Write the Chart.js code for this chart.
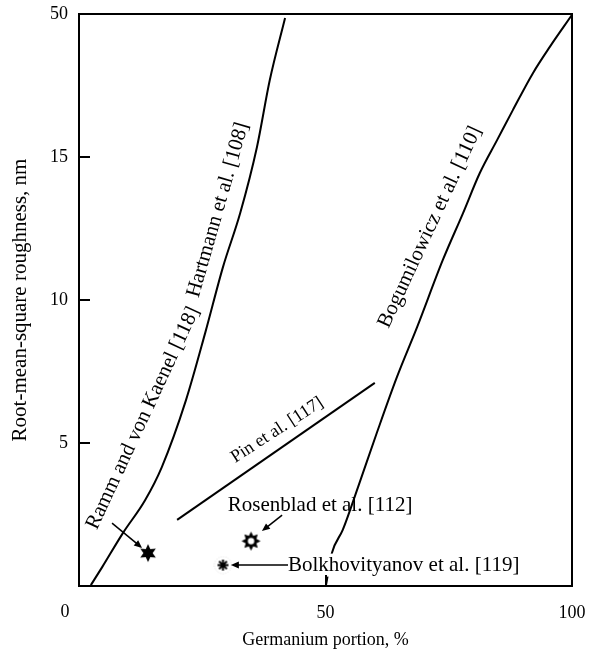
<!DOCTYPE html>
<html>
<head>
<meta charset="utf-8">
<script src="https://cdn.jsdelivr.net/npm/chart.js@4.4.0/dist/chart.umd.min.js"></script>
<style>
  html, body { margin: 0; padding: 0; background: #fff; }
  #wrap { width: 589px; height: 655px; position: relative; }
</style>
</head>
<body>
<div id="wrap"><canvas id="chart"></canvas></div>
<script>
// x = germanium portion (%), y = position on the roughness axis (top tick reads 50)
const hartmannX = [2.4, 4.7, 8.9, 13.4, 16.8, 21.7, 25.6, 29.2, 32.7, 36.1, 38.7, 41.8];
const hartmannY = [0.03, 0.66, 1.85, 3.0, 4.16, 6.5, 8.85, 11.15, 13.04, 15.35, 17.69, 19.86];

const bogumX = [50.1, 51.3, 53.5, 56.6, 60.4, 64.5, 68.6, 73.8, 77.9, 81.3, 84.8, 88.0, 92.1, 95.5, 100];
const bogumY = [0.03, 1.15, 1.96, 3.46, 5.35, 7.31, 9.06, 11.4, 13.04, 14.44, 15.59, 16.64, 17.94, 18.85, 19.97];

const pinX = [19.9, 60.0];
const pinY = [2.31, 7.10];

const rammPoint = [14.0, 1.15];
const rosenbladPoint = [34.9, 1.57];
const bolkhPoint = [29.2, 0.73];

const yTickValues = [0, 5, 10, 15, 20];
const yTickLabels = ['', '5', '10', '15', '50'];
const xTickValues = [0, 50, 100];
const xTickLabels = ['0', '50', '100'];

const FONT = "'Liberation Serif', 'DejaVu Serif', serif";
Chart.defaults.font.family = FONT;
Chart.defaults.color = '#000';

const toPoints = (xs, ys) => xs.map((v, i) => ({ x: v, y: ys[i] }));

// marker images
function starImage(n, rOut, rIn, hole) {
    const size = Math.ceil(rOut * 2 + 4);
    const c = document.createElement('canvas');
    c.width = size; c.height = size;
    const g = c.getContext('2d');
    const cx = size / 2, cy = size / 2;
    g.beginPath();
    for (let i = 0; i < n * 2; i++) {
        const r = i % 2 === 0 ? rOut : rIn;
        const a = -Math.PI / 2 + i * Math.PI / n;
        const px = cx + r * Math.cos(a), py = cy + r * Math.sin(a);
        if (i === 0) g.moveTo(px, py); else g.lineTo(px, py);
    }
    g.closePath();
    g.fillStyle = '#000';
    g.fill();
    if (hole) {
        g.beginPath();
        g.arc(cx, cy, hole, 0, Math.PI * 2);
        g.fillStyle = '#fff';
        g.fill();
    }
    return c;
}

function asteriskImage(r) {
    const size = Math.ceil(r * 2 + 8);
    const c = document.createElement('canvas');
    c.width = size; c.height = size;
    const g = c.getContext('2d');
    const cx = size / 2, cy = size / 2;
    g.strokeStyle = '#ddd';
    g.lineWidth = 1;
    g.setLineDash([1, 1.5]);
    g.beginPath();
    g.arc(cx, cy, r + 3, 0, Math.PI * 2);
    g.stroke();
    g.setLineDash([]);
    g.strokeStyle = '#000';
    g.lineWidth = 2;
    g.beginPath();
    for (let i = 0; i < 4; i++) {
        const a = i * Math.PI / 4 + Math.PI / 2;
        g.moveTo(cx + r * Math.cos(a), cy + r * Math.sin(a));
        g.lineTo(cx - r * Math.cos(a), cy - r * Math.sin(a));
    }
    g.stroke();
    return c;
}

// text labels and arrows, placed in data coordinates
const labels = [
    { text: 'Ramm and von Kaenel [118]', x: 13.0, y: 5.87, angle: -65, size: 21 },
    { text: 'Hartmann et al. [108]', x: 28.2, y: 13.15, angle: -74, size: 21 },
    { text: 'Bogumilowicz et al. [110]', x: 71.2, y: 12.55, angle: -65, size: 21 },
    { text: 'Pin et al. [117]', x: 40.2, y: 5.45, angle: -33, size: 18 },
    { text: 'Rosenblad et al. [112]', x: 48.9, y: 2.83, angle: 0, size: 21 },
    { text: 'Bolkhovityanov et al. [119]', x: 42.4, y: 0.73, angle: 0, size: 21, align: 'left', bg: true }
];
const arrows = [
    { from: [6.7, 2.20], to: [12.8, 1.33] },
    { from: [41.2, 2.48], to: [37.1, 1.92] },
    { from: [42.4, 0.73], to: [30.8, 0.73] }
];

function drawArrow(ctx, x1, y1, x2, y2) {
    const a = Math.atan2(y2 - y1, x2 - x1);
    const len = 8, half = 3.5;
    ctx.beginPath();
    ctx.moveTo(x1, y1);
    ctx.lineTo(x2 - len * 0.8 * Math.cos(a), y2 - len * 0.8 * Math.sin(a));
    ctx.lineWidth = 1.5;
    ctx.stroke();
    ctx.beginPath();
    ctx.moveTo(x2, y2);
    ctx.lineTo(x2 - len * Math.cos(a) + half * Math.sin(a), y2 - len * Math.sin(a) - half * Math.cos(a));
    ctx.lineTo(x2 - len * Math.cos(a) - half * Math.sin(a), y2 - len * Math.sin(a) + half * Math.cos(a));
    ctx.closePath();
    ctx.fill();
}

const decor = {
    id: 'decor',
    afterDatasetsDraw(chart) {
        const { ctx, chartArea: a, scales: { x, y } } = chart;
        ctx.save();
        ctx.strokeStyle = '#000';
        ctx.fillStyle = '#000';

        // labels
        labels.forEach(l => {
            const px = x.getPixelForValue(l.x), py = y.getPixelForValue(l.y);
            ctx.save();
            ctx.translate(px, py);
            ctx.rotate(l.angle * Math.PI / 180);
            ctx.font = l.size + 'px ' + FONT;
            ctx.textAlign = l.align || 'center';
            ctx.textBaseline = 'middle';
            if (l.bg) {
                const w = ctx.measureText(l.text).width;
                ctx.fillStyle = '#fff';
                ctx.fillRect(-2, -l.size / 2 - 1, w + 4, l.size + 2);
                ctx.fillStyle = '#000';
            }
            ctx.fillText(l.text, 0, 0);
            ctx.restore();
        });

        // arrows
        arrows.forEach(ar => {
            drawArrow(ctx,
                x.getPixelForValue(ar.from[0]), y.getPixelForValue(ar.from[1]),
                x.getPixelForValue(ar.to[0]), y.getPixelForValue(ar.to[1]));
        });

        // frame and inward ticks
        ctx.lineWidth = 2;
        ctx.strokeRect(a.left, a.top, a.right - a.left, a.bottom - a.top);
        ctx.beginPath();
        yTickValues.slice(1, -1).forEach(v => {
            const py = Math.round(y.getPixelForValue(v));
            ctx.moveTo(a.left, py);
            ctx.lineTo(a.left + 11, py);
        });
        xTickValues.slice(1, -1).forEach(v => {
            const px = Math.round(x.getPixelForValue(v));
            ctx.moveTo(px, a.bottom);
            ctx.lineTo(px, a.bottom - 11);
        });
        ctx.stroke();

        // corner zero sits left of the axis origin
        ctx.font = '18px ' + FONT;
        ctx.textAlign = 'center';
        ctx.textBaseline = 'middle';
        ctx.fillText(xTickLabels[0], x.getPixelForValue(xTickValues[0]) - 14, a.bottom + 26);
        ctx.restore();
    }
};

const lineStyle = {
    showLine: true,
    borderColor: '#000',
    borderWidth: 2,
    pointRadius: 0,
    cubicInterpolationMode: 'monotone',
    fill: false
};

new Chart(document.getElementById('chart'), {
    type: 'scatter',
    data: {
        datasets: [
            { ...lineStyle, label: 'Ramm / Hartmann', data: toPoints(hartmannX, hartmannY) },
            { ...lineStyle, label: 'Bogumilowicz', data: toPoints(bogumX, bogumY) },
            { ...lineStyle, label: 'Pin', data: toPoints(pinX, pinY) },
            { label: 'Ramm', data: [{ x: rammPoint[0], y: rammPoint[1] }], pointStyle: starImage(6, 9, 4.6, 0) },
            { label: 'Rosenblad', data: [{ x: rosenbladPoint[0], y: rosenbladPoint[1] }], pointStyle: starImage(8, 9.5, 5.8, 3.2) },
            { label: 'Bolkhovityanov', data: [{ x: bolkhPoint[0], y: bolkhPoint[1] }], pointStyle: asteriskImage(5.5) }
        ]
    },
    options: {
        responsive: true,
        maintainAspectRatio: false,
        animation: false,
        layout: { padding: { top: 14, right: 17, left: 0, bottom: 0 } },
        plugins: { legend: { display: false }, tooltip: { enabled: false } },
        scales: {
            x: {
                type: 'linear',
                min: 0, max: 100,
                afterFit: s => { s.height = 69; s.paddingLeft = 0; s.paddingRight = 0; },
                afterBuildTicks: s => { s.ticks = xTickValues.map(v => ({ value: v })); },
                grid: { display: true, drawOnChartArea: false, drawTicks: false },
                border: { display: true, color: '#000', width: 2 },
                ticks: {
                    padding: 16,
                    maxRotation: 0,
                    font: { size: 18 },
                    callback: v => v === 0 ? '' : xTickLabels[xTickValues.indexOf(v)]
                },
                title: {
                    display: true,
                    text: 'Germanium portion, %',
                    font: { size: 18 },
                    padding: { top: 0, bottom: 4 }
                }
            },
            y: {
                type: 'linear',
                min: 0, max: 20,
                afterFit: s => { s.width = 79; s.paddingTop = 0; s.paddingBottom = 0; },
                afterBuildTicks: s => { s.ticks = yTickValues.map(v => ({ value: v })); },
                grid: { display: true, drawOnChartArea: false, drawTicks: false },
                border: { display: true, color: '#000', width: 2 },
                ticks: {
                    padding: 11,
                    font: { size: 18 },
                    callback: v => yTickLabels[yTickValues.indexOf(v)]
                },
                title: {
                    display: true,
                    text: 'Root-mean-square roughness, nm',
                    font: { size: 21 },
                    padding: { top: 8, bottom: 0 }
                }
            }
        }
    },
    plugins: [decor]
});
</script>
</body>
</html>
